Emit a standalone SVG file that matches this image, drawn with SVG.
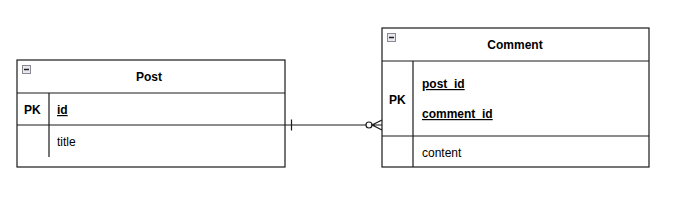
<svg xmlns="http://www.w3.org/2000/svg" width="680" height="200" viewBox="0 0 680 200">
<style>
.box{fill:#fff;stroke:#1a1a1a;stroke-width:1.2}
.ln{stroke:#1a1a1a;stroke-width:1.2;fill:none}
.t{font-family:"Liberation Sans",Arial,sans-serif;font-size:12px;fill:#000}
.b{font-weight:bold}
.u{text-decoration:underline}
.h{font-family:"Liberation Sans",Arial,sans-serif;font-size:12px;font-weight:bold;text-anchor:middle;fill:#000}
.ic{fill:#e8e8ee;stroke:#8a8a95;stroke-width:1}
.mi{stroke:#222;stroke-width:1.5}
</style>
<rect width="680" height="200" fill="#fff"/>
<g id="post">
<rect class="box" x="17" y="60" width="268" height="107"/>
<line class="ln" x1="17" y1="93" x2="285" y2="93"/>
<line class="ln" x1="17" y1="125" x2="285" y2="125"/>
<line class="ln" x1="49" y1="93" x2="49" y2="157"/>
<rect class="ic" x="22.5" y="65.5" width="8" height="8"/>
<line class="mi" x1="24" y1="69.5" x2="29" y2="69.5"/>
<text class="h" x="149" y="81">Post</text>
<text class="t b" x="24" y="114">PK</text>
<text class="t b u" x="57" y="114">id</text>
<text class="t" x="57" y="146">title</text>
</g>
<g id="comment">
<rect class="box" x="382" y="28" width="267" height="139"/>
<line class="ln" x1="382" y1="61" x2="649" y2="61"/>
<line class="ln" x1="382" y1="136" x2="649" y2="136"/>
<line class="ln" x1="413" y1="61" x2="413" y2="167"/>
<rect class="ic" x="387.5" y="33.5" width="8" height="8"/>
<line class="mi" x1="389" y1="37.5" x2="394" y2="37.5"/>
<text class="h" x="515" y="49">Comment</text>
<text class="t b" x="389" y="104">PK</text>
<text class="t b u" x="422" y="88">post_id</text>
<text class="t b u" x="422" y="118">comment_id</text>
<text class="t" x="422" y="157">content</text>
</g>
<g id="connectors">
<line class="ln" x1="285" y1="125" x2="366" y2="125"/>
<line class="ln" x1="291.5" y1="119.5" x2="291.5" y2="130.5"/>
<circle cx="369" cy="125" r="3" fill="#fff" stroke="#1a1a1a" stroke-width="1.2"/>
<path class="ln" d="M382 120 L372 125 L382 130 M372 125 L382 125"/>
</g>
</svg>
